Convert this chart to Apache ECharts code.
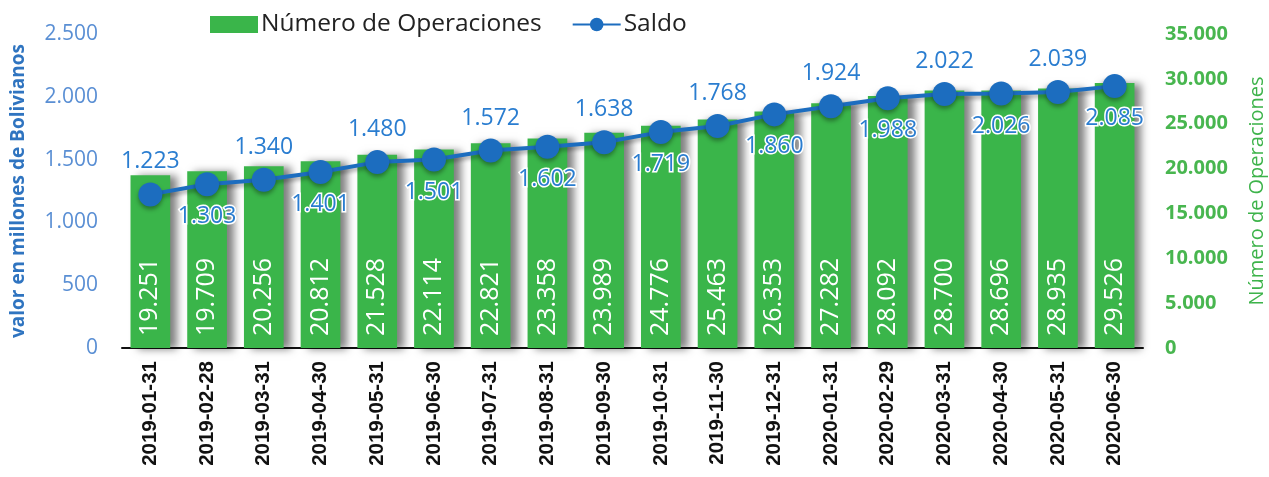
<!DOCTYPE html>
<html>
<head>
<meta charset="utf-8">
<script src="https://cdn.jsdelivr.net/npm/echarts@6/dist/echarts.min.js"></script>
<style>
html,body{margin:0;padding:0;background:#fff;}
#main{width:1269px;height:477px;}
</style>
</head>
<body>
<div id="main"></div>
<script>
var fechas = ['2019-01-31','2019-02-28','2019-03-31','2019-04-30','2019-05-31','2019-06-30','2019-07-31','2019-08-31','2019-09-30','2019-10-31','2019-11-30','2019-12-31','2020-01-31','2020-02-29','2020-03-31','2020-04-30','2020-05-31','2020-06-30'];
var operaciones = [19251,19709,20256,20812,21528,22114,22821,23358,23989,24776,25463,26353,27282,28092,28700,28696,28935,29526];
var saldo = [1223,1303,1340,1401,1480,1501,1572,1602,1638,1719,1768,1860,1924,1988,2022,2026,2039,2085];

/*separador de miles con punto*/
function miles(v){
	return String(v).replace(/\B(?=(\d{3})+(?!\d))/g, '.');
}

var saldoData = saldo.map(function(v, i){
	return {value: v, label: {position: (i % 2 === 0) ? 'top' : 'bottom'}};
});

var myChart = echarts.init(document.getElementById('main'));
var option = {
	animation: false,
	legend: {
		top: 7,
		left: 205,
		itemGap: 30,
		textStyle: {fontSize: 24.5, color: '#222', fontFamily: 'Open Sans', padding: [0, 0, 0, -2]},
		data: [
			{name: 'Número de Operaciones', icon: 'rect', itemStyle: {shadowBlur: 0, shadowOffsetX: 0, shadowOffsetY: 0}},
			{name: 'Saldo'}
		],
		itemWidth: 48,
		itemHeight: 17
	},
	grid: {left: 122, right: 126, top: 34, bottom: 129, outerBoundsMode: 'none'},
	xAxis: {
		type: 'category',
		data: fechas,
		axisLine: {lineStyle: {color: '#111', width: 2}},
		axisTick: {length: 8, lineStyle: {color: '#111', width: 2}},
		axisLabel: {rotate: 90, fontSize: 20.5, fontWeight: 'bold', color: '#111', margin: 13, fontFamily: 'Liberation Sans'}
	},
	yAxis: [
		{
			type: 'value', min: 0, max: 2500, interval: 500,
			name: 'valor en millones de Bolivianos',
			nameLocation: 'middle', nameRotate: 90, nameGap: 94,
			nameTextStyle: {fontSize: 19, fontWeight: 'bold', color: '#2F74C0', fontFamily: 'Open Sans'},
			axisLine: {show: false}, axisTick: {show: false}, splitLine: {show: false},
			axisLabel: {fontSize: 21, color: '#5A8FD4', margin: 24, formatter: miles, fontFamily: 'Open Sans'}
		},
		{
			type: 'value', min: 0, max: 35000, interval: 5000,
			name: 'Número de Operaciones',
			nameLocation: 'middle', nameRotate: 90, nameGap: 104,
			nameTextStyle: {fontSize: 20, color: '#3DB34A', fontFamily: 'Open Sans'},
			axisLine: {show: false}, axisTick: {show: false}, splitLine: {show: false},
			axisLabel: {fontSize: 20, fontWeight: 'bold', color: '#48B64F', margin: 22, formatter: miles, fontFamily: 'Open Sans'}
		}
	],
	series: [
		{
			name: 'Número de Operaciones',
			type: 'bar',
			yAxisIndex: 1,
			barWidth: '70%',
			data: operaciones,
			itemStyle: {
				color: '#3AB54A',
				shadowColor: 'rgba(0,0,0,0.5)',
				shadowBlur: 8,
				shadowOffsetX: 7,
				shadowOffsetY: 1
			},
			label: {
				show: true,
				position: 'insideBottom',
				rotate: 90,
				align: 'left',
				verticalAlign: 'middle',
				distance: 12,
				color: '#fff',
				fontSize: 25,
				fontFamily: 'Open Sans',
				formatter: function(p){ return miles(p.value); }
			}
		},
		{
			name: 'Saldo',
			type: 'line',
			yAxisIndex: 0,
			data: saldoData,
			symbol: 'circle',
			symbolSize: 24,
			lineStyle: {color: '#1C6DBF', width: 4, shadowColor: 'rgba(0,0,0,0.35)', shadowBlur: 4, shadowOffsetY: 3},
			itemStyle: {color: '#1C6DBF', shadowColor: 'rgba(0,0,0,0.35)', shadowBlur: 4, shadowOffsetY: 3},
			label: {
				show: true,
				fontSize: 23,
				color: '#2A7DD0',
				distance: 9,
				fontFamily: 'Open Sans',
				textBorderColor: '#fff',
				textBorderWidth: 3,
				formatter: function(p){ return miles(p.value); }
			},
			z: 5
		}
	]
};
myChart.setOption(option);
</script>
</body>
</html>
